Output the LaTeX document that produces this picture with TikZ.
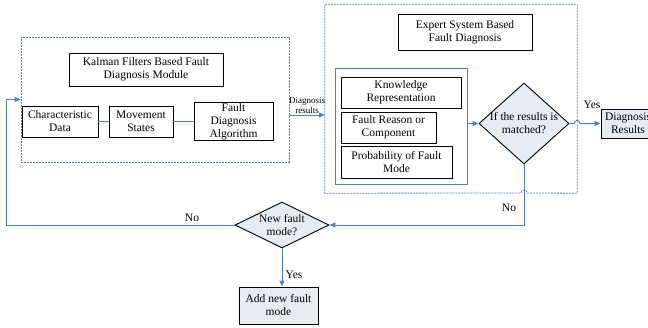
\documentclass[tikz,border=0pt]{standalone}
\usepackage{fontspec}
\setmainfont{Liberation Serif}
\usetikzlibrary{arrows.meta,shapes.geometric}
\definecolor{linkblue}{RGB}{79,129,189}
\definecolor{paleblue}{RGB}{230,236,246}
\tikzset{
  txt/.style={font=\fontsize{11.5}{13}\selectfont, align=center},
  blackbox/.style={txt, draw=black, line width=0.9pt, inner sep=0pt},
  filledbox/.style={blackbox, fill=paleblue},
  groupbox/.style={draw=linkblue, line width=0.8pt, dash pattern=on 2pt off 1pt, inner sep=0pt},
  innerbox/.style={draw=linkblue, line width=1pt, inner sep=0pt},
  decision/.style={diamond, draw=black, line width=0.9pt, fill=paleblue, inner sep=0pt},
  link/.style={draw=linkblue, line width=1pt},
  flow/.style={link, -{Triangle[length=6pt,width=5pt]}},
  smalltxt/.style={font=\fontsize{9}{9.5}\selectfont, align=center, inner sep=1pt},
}
\begin{document}
\begin{tikzpicture}[x=1pt, y=-1pt]
\useasboundingbox (0,0) rectangle (648,327);
\clip (0,0) rectangle (648,327);

% Kalman filter module
\node[groupbox, minimum width=268pt, minimum height=125pt] (leftbox) at (155,99.5) {};
\node[blackbox, minimum width=154pt, minimum height=33pt] (kftitle) at (146,69.5)
  {Kalman Filters Based Fault\\Diagnosis Module};
\node[blackbox, minimum width=76pt, minimum height=31pt] (chardata) at (60,121.5)
  {Characteristic\\Data};
\node[blackbox, minimum width=64pt, minimum height=31pt] (movement) at (141,121.5)
  {Movement\\States};
\node[blackbox, minimum width=79pt, minimum height=38pt] (fda) at (233.5,121.5)
  {Fault\\Diagnosis\\Algorithm};

% Expert system module
\node[minimum width=252pt, minimum height=188pt, inner sep=0pt] (expert) at (451,99) {};
\draw[groupbox] (expert.north west) -- (expert.north east) -- (expert.south east)
  -- (527,193) .. controls (527,189) and (521,189) .. (521,193)
  -- (expert.south west) -- cycle;
\node[blackbox, minimum width=134pt, minimum height=36pt] (estitle) at (465,32)
  {Expert System Based\\Fault Diagnosis};
\node[innerbox, minimum width=132pt, minimum height=116pt] (inner) at (401,126) {};
\node[blackbox, minimum width=120pt, minimum height=31pt] (kr) at (401,92.5)
  {Knowledge\\Representation};
\node[blackbox, minimum width=95pt, minimum height=31pt] (frc) at (388.5,127.5)
  {Fault Reason or\\Component};
\node[blackbox, minimum width=111pt, minimum height=32pt] (pfm) at (396.5,162)
  {Probability of Fault\\Mode};
\node[decision, minimum width=90pt, minimum height=81pt,
  label={[txt]center:If the results is\\matched?}] (match) at (524,123.5) {};

% Results and decisions
\node[filledbox, minimum width=54pt, minimum height=29pt] (dr) at (628,123.5)
  {Diagnosis\\Results};
\node[decision, minimum width=94pt, minimum height=46pt,
  label={[txt]center:New fault\\mode?}] (newfault) at (282,225) {};
\node[filledbox, minimum width=79pt, minimum height=37pt] (addnew) at (278.5,305.5)
  {Add new fault\\mode};

% Connectors
\draw[link] (chardata) -- (movement);
\draw[link] (movement.east) -- (movement.east -| fda.west);
\draw[flow] ([yshift=-15.5pt]leftbox.east) -- ([yshift=-15.5pt]leftbox.east -| expert.west)
  node[midway, above, smalltxt] {Diagnosis\\results};
\draw[flow] (inner.east |- match.west) -- (match.west);
\draw[flow] (match.east) -- (574,123.5) .. controls (574,119.5) and (580,119.5) .. (580,123.5)
  -- (dr.west);
\node[txt, inner sep=0pt] (yeslabel) at (592,105) {Yes};
\draw[flow] (match.south) -- (524,225) -- (newfault.east);
\node[txt, inner sep=0pt] (nolabel) at (509,208) {No};
\draw[flow] (newfault.west) -- (6,225) -- (6,99.5) -- (leftbox.west);
\node[txt, inner sep=0pt] (noleft) at (192,218) {No};
\draw[flow] (newfault.south) -- (newfault.south |- addnew.north);
\node[txt, inner sep=0pt] (yesdown) at (294,275) {Yes};
\end{tikzpicture}
\end{document}
